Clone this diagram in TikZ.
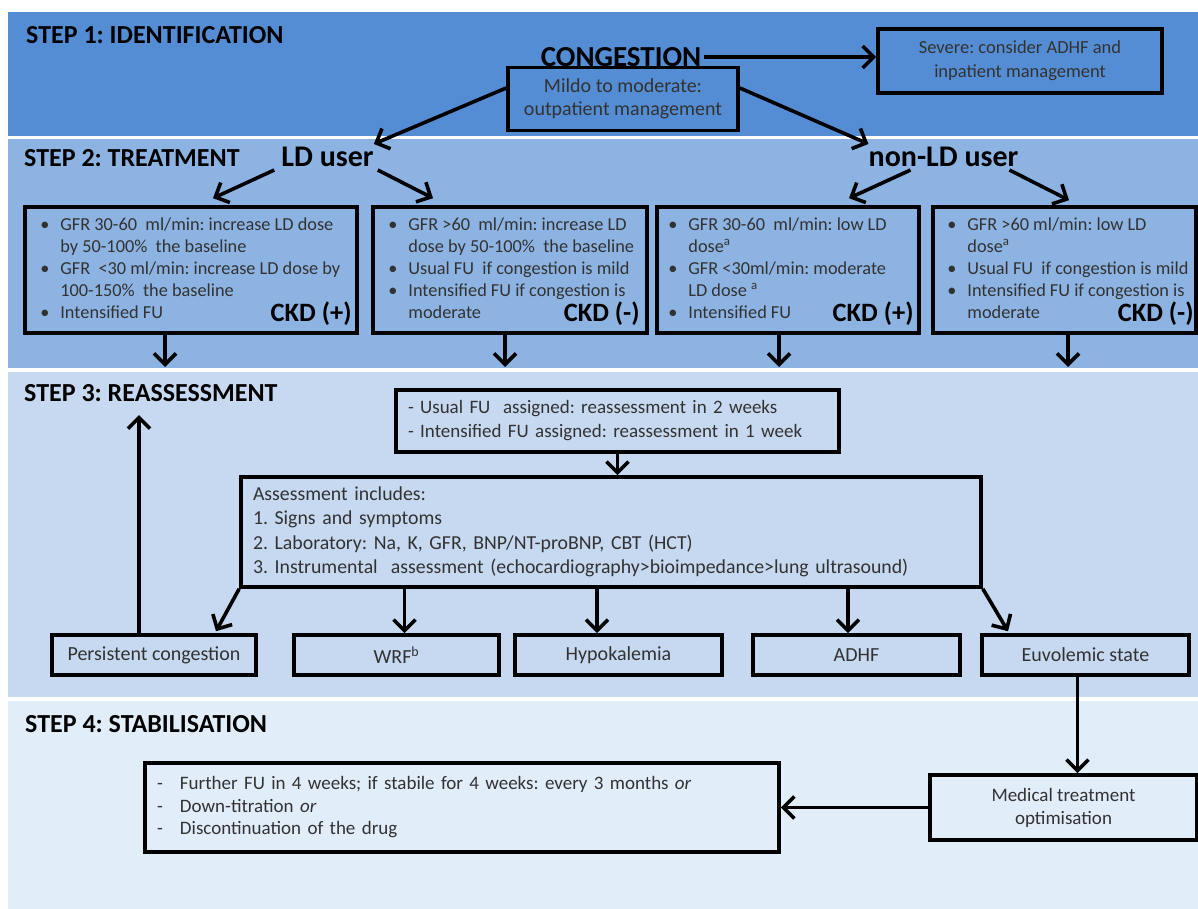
\documentclass[tikz,border=0pt]{standalone}
\usepackage{fontspec}
\setmainfont{Carlito}
\usetikzlibrary{arrows.meta,calc,positioning}
\frenchspacing

\definecolor{bandone}{RGB}{84,141,212}
\definecolor{bandtwo}{RGB}{141,179,226}
\definecolor{bandthree}{RGB}{198,217,241}
\definecolor{bandfour}{RGB}{226,237,250}
\definecolor{inktext}{RGB}{50,50,50}

\newcommand{\itm}{\makebox[20pt][l]{\textbullet}}
\newcommand{\cnt}{\hspace*{20pt}}

\begin{document}
\begin{tikzpicture}[x=1pt,y=-1pt,               % pixel grid, y down
                    >={Straight Barb[length=11pt,width=22pt]},
                    every node/.style={text=inktext,font=\fontsize{18.3}{22}\selectfont},
                    box/.style={draw=black,line width=3.6pt,inner sep=0pt},
                    txtbox/.style={box,inner xsep=12pt,align=left},
                    ctrbox/.style={box,align=center},
                    outbox/.style={ctrbox,minimum width=205pt,minimum height=40pt,
                                   font=\fontsize{20}{24}\selectfont},
                    boxtxt/.style={anchor=north west,inner sep=0pt,align=left},
                    steplbl/.style={anchor=west,inner sep=0pt,text=black,
                                    font=\fontsize{26}{30}\selectfont\bfseries},
                    biglbl/.style={inner sep=0pt,text=black,
                                   font=\fontsize{30}{34}\selectfont\bfseries},
                    ckd/.style={anchor=base east,inner sep=0pt,text=black,
                                font=\fontsize{26.5}{30}\selectfont\bfseries},
                    arr/.style={->,line width=3.6pt,draw=black}]

\useasboundingbox (0,0) rectangle (1198,909);
\fill[white] (0,0) rectangle (1198,909);

% ---------------------------------------------------------------
% Background bands, one per step
\fill[bandone]   (8,12)  rectangle (1198,136);
\fill[bandtwo]   (8,139) rectangle (1198,368);
\fill[bandthree] (8,372) rectangle (1198,697);
\fill[bandfour]  (8,701) rectangle (1198,909);

% ---------------------------------------------------------------
% Step 1
\node[steplbl] (step1) at (26,35) {STEP 1: IDENTIFICATION};
\node[biglbl,font=\fontsize{29}{34}\selectfont\bfseries] (cong) at (621,57) {CONGESTION};
\node[ctrbox,minimum width=284pt,minimum height=64pt,
      font=\fontsize{18.5}{24}\selectfont] (severe) at (1020,61)
      {Severe: consider ADHF and\\inpatient management};
\node[ctrbox,minimum width=230pt,minimum height=63pt,
      font=\fontsize{20}{23.5}\selectfont] (mild) at (623,99)
      {Mildo to moderate:\\outpatient management};

\draw[arr] ([xshift=3pt]cong.east) -- (cong.east -| severe.west);

% ---------------------------------------------------------------
% Step 2
\node[steplbl] (step2) at (24,158) {STEP 2: TREATMENT};
\node[biglbl] (ldu) at (327.5,157) {LD user};
\node[biglbl] (nld) at (943.5,157) {non-LD user};

\draw[arr] ($(mild.west)+(0,-11)$) -- ($(ldu.north east)+(0,-3)$);
\draw[arr] ($(mild.east)+(0,-11)$) -- ($(nld.north west)+(0,-3)$);

% treatment boxes
\node[box,minimum width=332pt,minimum height=126pt] (boxA) at (191,270) {};
\node[box,minimum width=274pt,minimum height=126pt] (boxB) at (510,270) {};
\node[box,minimum width=262pt,minimum height=126pt] (boxC) at (788,270) {};
\node[box,minimum width=263pt,minimum height=126pt] (boxD) at (1064.5,270) {};

\node[boxtxt] (txtA) at ($(boxA.north west)+(17,12)$)
      {\itm GFR 30-60~ ml/min: increase LD dose\\
       \cnt by 50-100\%~ the baseline\\
       \itm GFR~ <30 ml/min: increase LD dose by\\
       \cnt 100-150\%~ the baseline\\
       \itm Intensified FU};
\node[boxtxt] (txtB) at ($(boxB.north west)+(17,12)$)
      {\itm GFR >60~ ml/min: increase LD\\
       \cnt dose by 50-100\%~ the baseline\\
       \itm Usual FU~ if congestion is mild\\
       \itm Intensified FU if congestion is\\
       \cnt moderate};
\node[boxtxt] (txtC) at ($(boxC.north west)+(13,12)$)
      {\itm GFR 30-60~ ml/min: low LD\\
       \cnt dose\textsuperscript{a}\\
       \itm GFR <30ml/min: moderate\\
       \cnt LD dose \textsuperscript{a}\\
       \itm Intensified FU};
\node[boxtxt] (txtD) at ($(boxD.north west)+(16,12)$)
      {\itm GFR >60 ml/min: low LD\\
       \cnt dose\textsuperscript{a}\\
       \itm Usual FU~ if congestion is mild\\
       \itm Intensified FU if congestion is\\
       \cnt moderate};

\node[ckd] (ckdA) at ($(boxA.south east)+(-7,-13)$) {CKD (+)};
\node[ckd] (ckdB) at ($(boxB.south east)+(-9,-13)$) {CKD (-)};
\node[ckd] (ckdC) at ($(boxC.south east)+(-7,-13)$) {CKD (+)};
\node[ckd] (ckdD) at ($(boxD.south east)+(-4,-13)$) {CKD (-)};

\draw[arr] ($(ldu.south west)+(-7,3)$)  -- ($(boxA.north)+(22,-7)$);
\draw[arr] ($(ldu.south east)+(4,3)$)   -- ($(boxB.north)+(-77,-7)$);
\draw[arr] ($(nld.south)+(-33,3)$)      -- ($(boxC.north)+(61,-7)$);
\draw[arr] ($(nld.south)+(66,3)$)       -- ($(boxD.north)+(4.5,-5)$);

% arrows down into step 3
\coordinate (dA) at (165,367);
\coordinate (dB) at (505,367);
\coordinate (dC) at (779,367);
\coordinate (dD) at (1068,367);
\foreach \b/\d in {boxA/dA,boxB/dB,boxC/dC,boxD/dD}
  \draw[arr] (\b.south -| \d) -- (\d);

% ---------------------------------------------------------------
% Step 3
\node[steplbl] (step3) at (24,393) {STEP 3: REASSESSMENT};

\node[txtbox,minimum height=62pt,text width=419pt,
      font=\fontsize{19}{24}\selectfont] (usual) at (617.5,421)
      {- Usual FU~ assigned: reassessment in 2 weeks\\
       - Intensified FU assigned: reassessment in 1 week};
\node[txtbox,minimum height=110pt,text width=716pt,
      font=\fontsize{19.8}{24.5}\selectfont] (assess) at (611,532)
      {Assessment includes:\\
       1. Signs and symptoms\\
       2. Laboratory: Na, K, GFR, BNP/NT-proBNP, CBT (HCT)\\
       3. Instrumental~ assessment (echocardiography>bioimpedance>lung ultrasound)};

\draw[arr] (usual.south) -- (usual.south |- assess.north);

% outcomes
\node[outbox,minimum width=204pt] (persist) at (154,655) {Persistent congestion};
\node[outbox] (wrf)    at (396.5,655)  {WRF\textsuperscript{b}};
\node[outbox,minimum width=207pt] (hypo)   at (618.5,655)  {Hypokalemia};
\node[outbox,minimum width=207pt] (adhf)   at (856.5,655)  {ADHF};
\node[outbox,minimum width=207pt] (euvol)  at (1085.5,655) {Euvolemic state};

\draw[arr] (assess.south west) -- ($(persist.north)+(62,-2)$);
\draw[arr] ([xshift=8pt]wrf.north |- assess.south) -- ([xshift=8pt]wrf.north);
\draw[arr] ([xshift=-21.5pt]hypo.north |- assess.south) -- ([xshift=-21.5pt]hypo.north);
\draw[arr] ([xshift=-8.5pt]adhf.north |- assess.south) -- ([xshift=-8.5pt]adhf.north);
\draw[arr] (assess.south east) -- ($(euvol.north)+(-77.5,-2)$);

% back to reassessment
\coordinate (reup) at (139,415);
\draw[arr] (persist.north -| reup) -- (reup);

% ---------------------------------------------------------------
% Step 4
\node[steplbl] (step4) at (25,724) {STEP 4: STABILISATION};

\node[ctrbox,minimum width=267pt,minimum height=65pt,
      font=\fontsize{19}{23}\selectfont] (medical) at (1063.5,807.5)
      {Medical treatment\\optimisation};
\node[txtbox,minimum height=89pt,text width=610pt,
      font=\fontsize{19}{22.5}\selectfont] (further) at (462,807.5)
      {\makebox[23pt][l]{-}Further FU in 4 weeks; if stabile for 4 weeks: every 3 months \textit{or}\\
       \makebox[23pt][l]{-}Down-titration \textit{or}\\
       \makebox[23pt][l]{-}Discontinuation of the drug};

\draw[arr] ([xshift=-8pt]euvol.south) -- ([xshift=-8pt]euvol.south |- medical.north);
\draw[arr] (medical.west) -- (further.east);

\end{tikzpicture}
\end{document}
